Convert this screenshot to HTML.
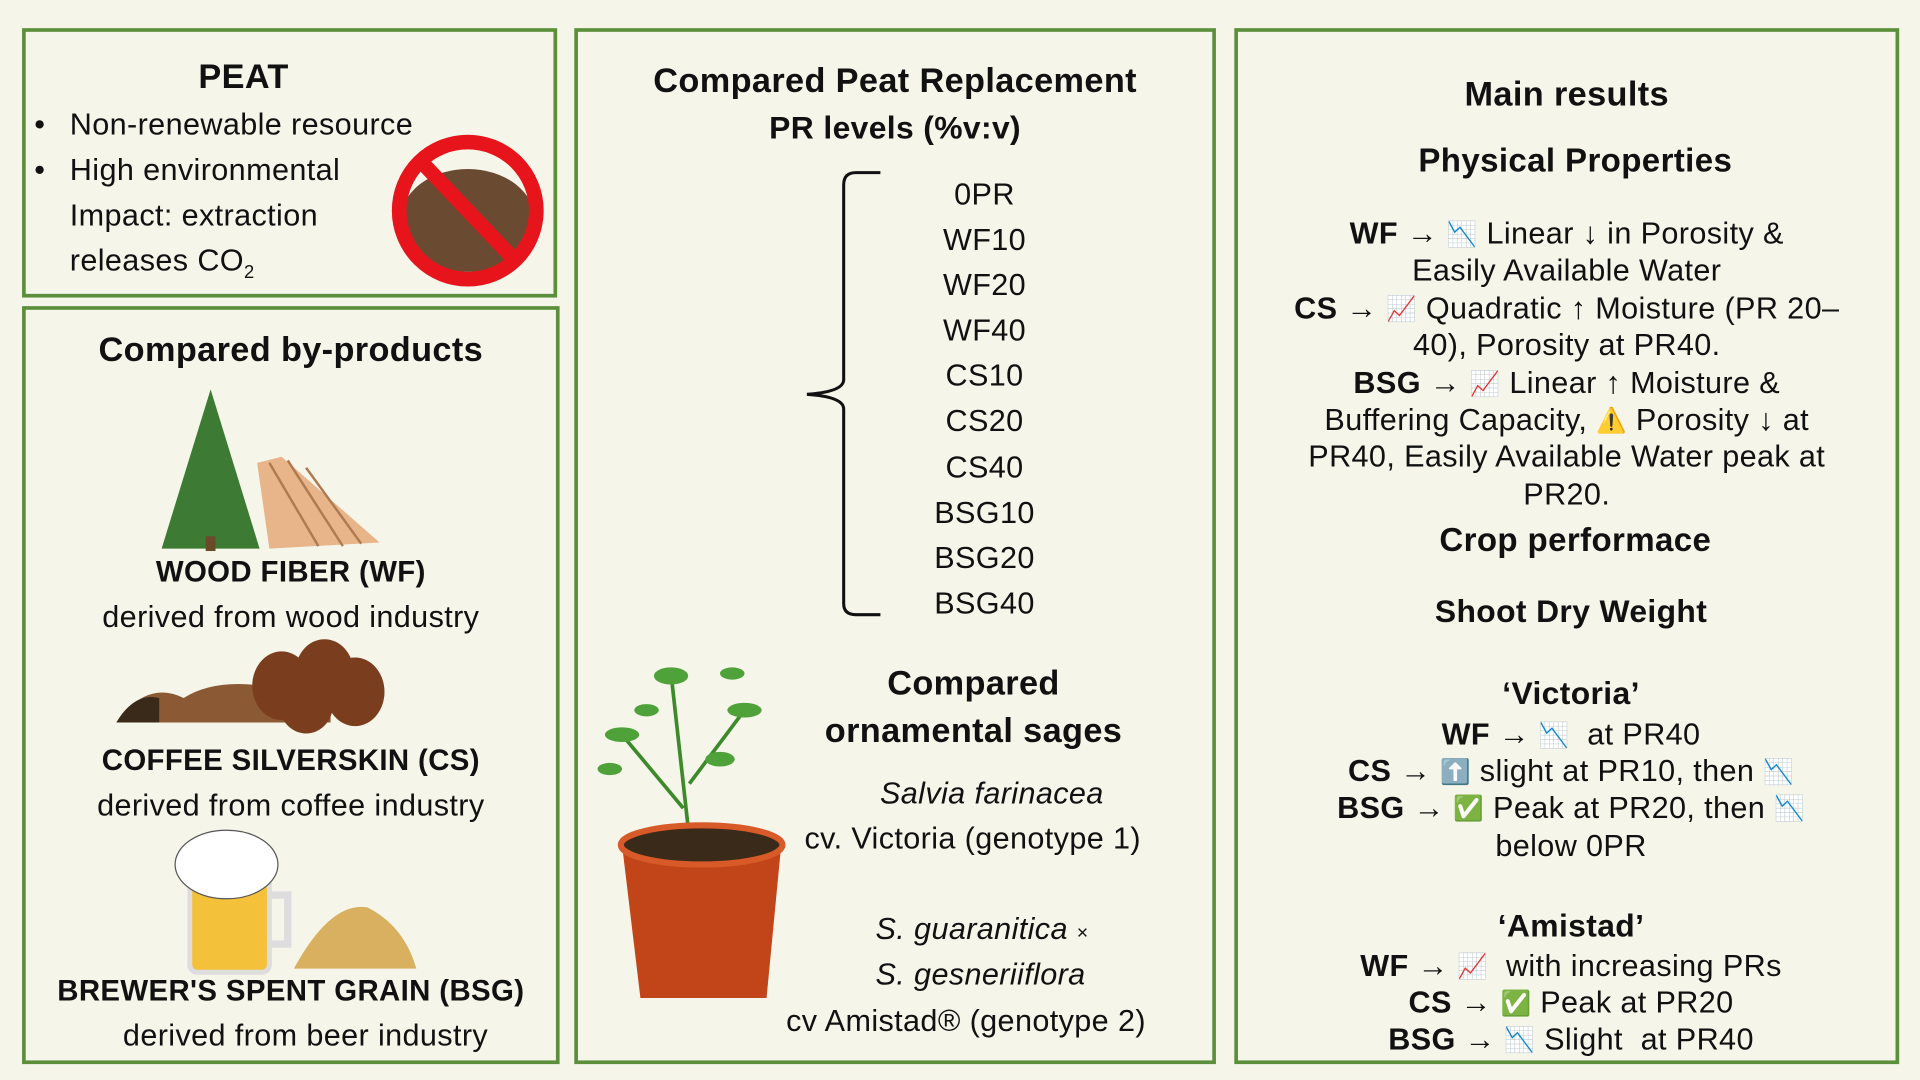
<!DOCTYPE html>
<html><head><meta charset="utf-8"><style>
html,body{margin:0;padding:0;width:1920px;height:1080px;overflow:hidden;background:#f5f5ea}
#w{position:absolute;left:0;top:0;width:1568px;height:882px;transform:scale(1.2245);transform-origin:0 0;font-family:"Liberation Sans","DejaVu Sans",sans-serif;color:#111}
.box{position:absolute;border:3px solid #5b8f3b;box-sizing:border-box}
.t{position:absolute;white-space:nowrap;font-size:25px;letter-spacing:0.3px}
.c{text-align:center}
.b{font-weight:bold}
.h{font-size:28px;font-weight:bold}
.em{font-size:20px;line-height:0;vertical-align:1px}
</style></head><body><div id="w">
<div class="box" style="left:18px;top:23px;width:437px;height:220px"></div>
<div class="box" style="left:18px;top:250px;width:439px;height:619px"></div>
<div class="box" style="left:469px;top:23px;width:524px;height:846px"></div>
<div class="box" style="left:1008px;top:23px;width:543px;height:846px"></div>

<!-- PEAT -->
<div class="t h" style="left:162px;top:47px">PEAT</div>
<div class="t" style="left:28px;top:88px">•</div>
<div class="t" style="left:57px;top:88px">Non-renewable resource</div>
<div class="t" style="left:28px;top:125px">•</div>
<div class="t" style="left:57px;top:125px">High environmental</div>
<div class="t" style="left:57px;top:162px">Impact: extraction</div>
<div class="t" style="left:57px;top:199px">releases CO<sub style="font-size:15px">2</sub></div>
<svg style="position:absolute;left:310px;top:108px" width="140" height="130">
<ellipse cx="72" cy="72" rx="55" ry="42" fill="#6b4a32"/>
<circle cx="72" cy="64" r="56" fill="none" stroke="#e8141c" stroke-width="12"/>
<line x1="34" y1="24" x2="110" y2="104" stroke="#e8141c" stroke-width="12"/>
</svg>

<!-- by-products -->
<div class="t h c" style="left:18px;width:439px;top:270px">Compared by-products</div>
<svg style="position:absolute;left:120px;top:318px" width="200" height="135">
<polygon points="52,0 12,130 92,130" fill="#3d7a34"/>
<rect x="48" y="120" width="8" height="12" fill="#6b4a2a"/>
<polygon points="90,60 110,55 190,125 100,130" fill="#e8b48a"/>
<g stroke="#b07a50" stroke-width="2"><line x1="100" y1="60" x2="140" y2="128"/><line x1="115" y1="58" x2="160" y2="128"/><line x1="130" y1="64" x2="175" y2="126"/></g>
</svg>
<div class="t b c" style="left:18px;width:439px;top:454px;font-size:24px">WOOD FIBER (WF)</div>
<div class="t c" style="left:18px;width:439px;top:490px">derived from wood industry</div>
<svg style="position:absolute;left:90px;top:515px" width="240" height="85">
<path d="M5,75 Q30,40 60,55 Q100,30 180,60 L180,75 Z" fill="#8b5a35"/>
<path d="M5,75 Q20,50 40,55 L40,75Z" fill="#3a2a1a"/>
<g fill="#7a3d1e"><ellipse cx="140" cy="45" rx="24" ry="28"/><ellipse cx="175" cy="35" rx="24" ry="28"/><ellipse cx="200" cy="50" rx="24" ry="28"/><ellipse cx="160" cy="60" rx="22" ry="24"/></g>
</svg>
<div class="t b c" style="left:18px;width:439px;top:608px;font-size:24px">COFFEE SILVERSKIN (CS)</div>
<div class="t c" style="left:18px;width:439px;top:644px">derived from coffee industry</div>
<svg style="position:absolute;left:140px;top:676px" width="210" height="122">
<path d="M100,115 Q130,60 160,65 Q190,80 200,115Z" fill="#d9b060"/>
<rect x="15" y="40" width="65" height="78" rx="6" fill="#f3c23a" stroke="#ddd" stroke-width="4"/>
<path d="M80,55 h15 v40 h-15" fill="none" stroke="#ddd" stroke-width="6"/>
<ellipse cx="45" cy="30" rx="42" ry="28" fill="#fff" stroke="#555" stroke-width="1"/>
</svg>
<div class="t b c" style="left:18px;width:439px;top:796px;font-size:24px">BREWER'S SPENT GRAIN (BSG)</div>
<div class="t c" style="left:30px;width:439px;top:832px">derived from beer industry</div>

<!-- middle -->
<div class="t h c" style="left:469px;width:524px;top:50px">Compared Peat Replacement</div>
<div class="t h c" style="left:469px;width:524px;top:89px;font-size:26px">PR levels (%v:v)</div>
<svg style="position:absolute;left:655px;top:138px" width="70" height="368">
<path d="M64,3 H44 Q34,3 34,13 V172 Q34,182 4,184 Q34,186 34,196 V355 Q34,364 44,364 H64" fill="none" stroke="#111" stroke-width="2.5"/>
</svg>
<div class="t c" style="left:744px;width:120px;top:141px;line-height:37.1px">0PR<br>WF10<br>WF20<br>WF40<br>CS10<br>CS20<br>CS40<br>BSG10<br>BSG20<br>BSG40</div>
<svg style="position:absolute;left:478px;top:540px" width="180" height="285">
<g stroke="#3c8a2a" stroke-width="3" fill="#4fa23a"><line x1="85" y1="145" x2="70" y2="10"/><line x1="80" y1="120" x2="30" y2="60"/><line x1="85" y1="100" x2="130" y2="40"/></g>
<g fill="#4fa23a"><ellipse cx="70" cy="12" rx="14" ry="7"/><ellipse cx="30" cy="60" rx="14" ry="6"/><ellipse cx="130" cy="40" rx="14" ry="6"/><ellipse cx="20" cy="88" rx="10" ry="5"/><ellipse cx="110" cy="80" rx="12" ry="6"/><ellipse cx="50" cy="40" rx="10" ry="5"/><ellipse cx="120" cy="10" rx="10" ry="5"/></g>
<path d="M30,150 L160,150 L148,275 L45,275 Z" fill="#c2451a"/>
<ellipse cx="95" cy="150" rx="66" ry="16" fill="#3a2a1a" stroke="#d85a28" stroke-width="5"/>
</svg>
<div class="t h c" style="left:650px;width:290px;top:542px">Compared</div>
<div class="t h c" style="left:650px;width:290px;top:581px">ornamental sages</div>
<div class="t c" style="left:660px;width:300px;top:634px;font-style:italic">Salvia farinacea</div>
<div class="t" style="left:657px;top:671px">cv. Victoria (genotype 1)</div>
<div class="t" style="left:715px;top:745px;font-style:italic">S. guaranitica <span style="font-style:normal;font-size:16px">×</span></div>
<div class="t" style="left:715px;top:782px;font-style:italic">S. gesneriiflora</div>
<div class="t" style="left:642px;top:820px">cv Amistad® (genotype 2)</div>

<!-- results -->
<div class="t h c" style="left:1008px;width:543px;top:61px">Main results</div>
<div class="t h c" style="left:1015px;width:543px;top:116px;font-size:27px">Physical Properties</div>
<div class="t c" style="left:1008px;width:543px;top:176px;line-height:30.4px"><b>WF</b> → <span class="em">📉</span> Linear ↓ in Porosity &amp;<br>Easily Available Water<br><b>CS</b> → <span class="em">📈</span> Quadratic ↑ Moisture (PR 20–<br>40), Porosity at PR40.<br><b>BSG</b> → <span class="em">📈</span> Linear ↑ Moisture &amp;<br>Buffering Capacity, <span class="em">⚠️</span> Porosity ↓ at<br>PR40, Easily Available Water peak at<br>PR20.</div>
<div class="t h c" style="left:1015px;width:543px;top:426px;font-size:27px">Crop performace</div>
<div class="t b c" style="left:1008px;width:550px;top:484px;font-size:26px">Shoot Dry Weight</div>
<div class="t b c" style="left:1008px;width:550px;top:551px;font-size:26px">‘Victoria’</div>
<div class="t c" style="left:1008px;width:550px;top:585px;line-height:30.2px"><b>WF</b> → <span class="em">📉</span>&nbsp; at PR40<br><b>CS</b> → <span class="em">⬆️</span> slight at PR10, then <span class="em">📉</span><br><b>BSG</b> → <span class="em">✅</span> Peak at PR20, then <span class="em">📉</span><br>below 0PR</div>
<div class="t b c" style="left:1008px;width:550px;top:741px;font-size:26px">‘Amistad’</div>
<div class="t c" style="left:1008px;width:550px;top:774px;line-height:30.2px"><b>WF</b> → <span class="em">📈</span>&nbsp; with increasing PRs<br><b>CS</b> → <span class="em">✅</span> Peak at PR20<br><b>BSG</b> → <span class="em">📉</span> Slight&nbsp; at PR40</div>
</div></body></html>
